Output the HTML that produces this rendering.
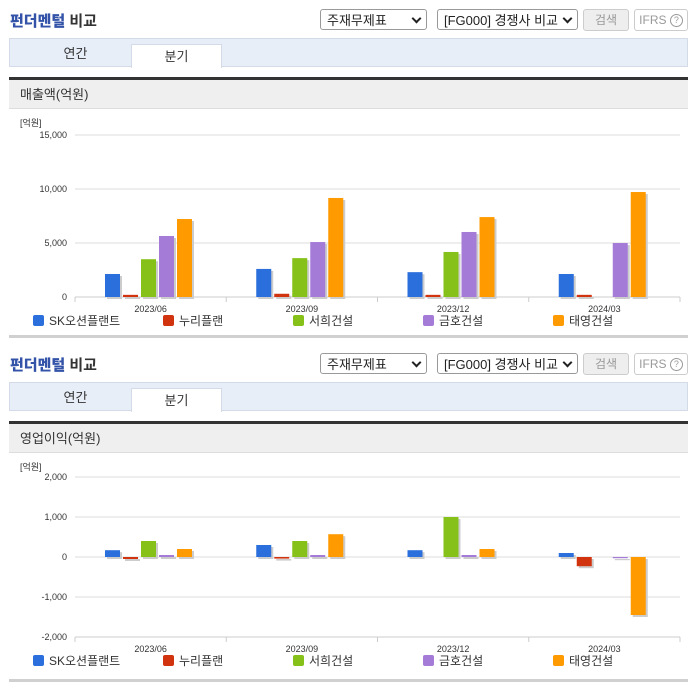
<!DOCTYPE html>
<html><head><meta charset="utf-8">
<style>
body{margin:0;width:696px;height:684px;background:#fff;font-family:"Liberation Sans","Noto Sans CJK KR",sans-serif;position:relative;overflow:hidden}
.sec{position:absolute;left:0;width:696px;height:342px}
.title{position:absolute;left:10px;top:10px;font-size:15px;font-weight:bold;color:#333}
.title b{color:#3353a8}
.sel{position:absolute;top:9px;height:21px;border:1px solid #999;border-radius:3px;font-size:13px;line-height:21px;padding-left:6px;box-sizing:border-box;color:#222;background:#fff}
.sel span{position:absolute;right:6px;top:5px;width:5px;height:5px;border-right:2px solid #222;border-bottom:2px solid #222;transform:rotate(45deg)}
.btn{position:absolute;top:9px;height:22px;border:1px solid #ccc;border-radius:3px;font-size:12px;line-height:20px;text-align:center;box-sizing:border-box;color:#999}
.q{display:inline-block;width:11px;height:11px;border:1px solid #999;border-radius:50%;font-size:9px;line-height:11px;vertical-align:1px}
.tabs{position:absolute;left:9px;top:38px;width:679px;height:29px;background:#e8eef8;border:1px solid #d3dbe8;box-sizing:border-box}
.tab{position:absolute;top:0;height:29px;line-height:30px;text-align:center;font-size:13px;color:#333;width:91px}
.tab.on{background:#fff;top:5px;height:24px;line-height:24px;border:1px solid #d3dbe8;border-bottom:none;box-sizing:border-box}
.bar2{position:absolute;left:9px;top:77px;width:679px;height:3px;background:#333}
.hdr{position:absolute;left:9px;top:80px;width:679px;height:29px;background:#efefef;border-bottom:1px solid #ddd;font-size:13px;line-height:30px;padding-left:11px;box-sizing:border-box;color:#333}
.bot{position:absolute;left:9px;top:335px;width:679px;height:3px;background:#d0d0d0}
svg{position:absolute;left:0;top:110px}
</style></head><body>

<div class="sec" id="s1" style="top:0">
<div class="title"><b>펀더멘털</b> 비교</div>
<div class="sel" style="left:320px;width:107px">주재무제표<span></span></div>
<div class="sel" style="left:437px;width:141px">[FG000] 경쟁사 비교<span></span></div>
<div class="btn" style="left:583px;width:46px;background:#eee">검색</div>
<div class="btn" style="left:634px;width:54px">IFRS <span class="q">?</span></div>
<div class="tabs">
<div class="tab" style="left:20px">연간</div>
<div class="tab on" style="left:121px">분기</div></div>
<div class="bar2"></div>
<div class="hdr">매출액(억원)</div>
<svg id="c1" width="696" height="225"></svg>
<div class="bot"></div>
</div>

<div class="sec" id="s2" style="top:344px">
<div class="title"><b>펀더멘털</b> 비교</div>
<div class="sel" style="left:320px;width:107px">주재무제표<span></span></div>
<div class="sel" style="left:437px;width:141px">[FG000] 경쟁사 비교<span></span></div>
<div class="btn" style="left:583px;width:46px;background:#eee">검색</div>
<div class="btn" style="left:634px;width:54px">IFRS <span class="q">?</span></div>
<div class="tabs">
<div class="tab" style="left:20px">연간</div>
<div class="tab on" style="left:121px">분기</div></div>
<div class="bar2"></div>
<div class="hdr">영업이익(억원)</div>
<svg id="c2" width="696" height="225"></svg>
<div class="bot"></div>
</div>

<script>
const categories = ["2023/06","2023/09","2023/12","2024/03"];
const companies = ["SK오션플랜트","누리플랜","서희건설","금호건설","태영건설"];
const colors = ["#2b6fdc","#d2330f","#86c11a","#a57bd8","#ff9a00"];
const revSK = [2130,2600,2300,2130];
const revNuri = [200,300,200,200];
const revSeohee = [3500,3600,4170,0];
const revKumho = [5650,5090,6020,5000];
const revTaeyoung = [7220,9170,7400,9720];
const revTicks = [0,5000,10000,15000];
const opSK = [170,300,170,100];
const opNuri = [-50,-40,0,-230];
const opSeohee = [400,400,1000,0];
const opKumho = [50,50,50,-30];
const opTaeyoung = [200,570,200,-1450];
const opTicks = [-2000,-1000,0,1000,2000];

const NS="http://www.w3.org/2000/svg";
function mk(svg,tag,attrs){const e=document.createElementNS(NS,tag);for(const k in attrs)e.setAttribute(k,attrs[k]);svg.appendChild(e);return e;}
function fmt(v){return v.toLocaleString("en-US");}
function draw(id,series,ticks,yTop,yBot){
  const svg=document.getElementById(id);
  const x0=75,x1=680,min=ticks[0],max=ticks[ticks.length-1];
  const y=v=>yBot-(v-min)/(max-min)*(yBot-yTop);
  const t=mk(svg,"text",{x:20,y:16,"font-size":"9",fill:"#333"});t.textContent="[억원]";
  
  
  ticks.forEach(v=>{
    const g=mk(svg,"line",{x1:x0,x2:x1,y1:y(v),y2:y(v),stroke:"#ddd","stroke-width":1});
    
    
    const l=mk(svg,"text",{x:67,y:y(v)+3,"font-size":"9","text-anchor":"end",fill:"#333"});l.textContent=fmt(v);
    
    
  });
  mk(svg,"line",{x1:x0,x2:x1,y1:yBot,y2:yBot,stroke:"#ccc"});
  const cw=(x1-x0)/categories.length;
  categories.forEach((c,i)=>{
    mk(svg,"line",{x1:x0+i*cw,x2:x0+i*cw,y1:yBot,y2:yBot+5,stroke:"#ccc"});
    const l=mk(svg,"text",{x:x0+i*cw+cw/2,y:yBot+15,"font-size":"9","text-anchor":"middle",fill:"#333"});l.textContent=c;
    
    
    series.forEach((s,j)=>{
      const v=s[i];if(v===0)return;
      const bx=x0+i*cw+30+j*18;
      const ya=y(Math.max(v,0)),yb=y(Math.min(v,0));
      mk(svg,"rect",{x:bx+2,y:ya+2,width:15,height:Math.max(yb-ya,1),fill:"#ccc"});
      const r=mk(svg,"rect",{x:bx,y:ya,width:15,height:Math.max(yb-ya,1),fill:colors[j]});
      
      
    });
  });
  mk(svg,"line",{x1:x1,x2:x1,y1:yBot,y2:yBot+5,stroke:"#ccc"});
  companies.forEach((n,j)=>{
    const lx=33+j*130;
    const sq=mk(svg,"rect",{x:lx,y:yBot+18,width:11,height:11,rx:2,fill:colors[j]});
    
    
    const tx=mk(svg,"text",{x:lx+16,y:yBot+28,"font-size":"12",fill:"#333"});tx.textContent=n;
    
    
  });
}
draw("c1",[revSK,revNuri,revSeohee,revKumho,revTaeyoung],revTicks,25,187);
draw("c2",[opSK,opNuri,opSeohee,opKumho,opTaeyoung],opTicks,23,183);
</script>
</body></html>
